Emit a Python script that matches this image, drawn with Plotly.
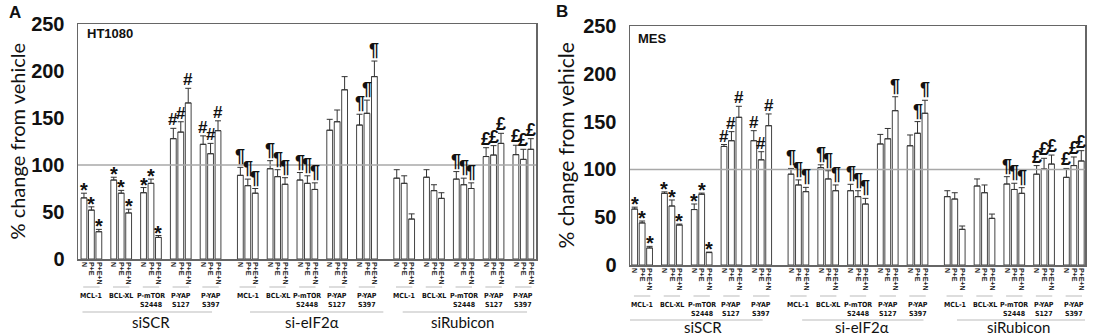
import plotly.graph_objects as go

W, H = 1097, 335

sets = ["siSCR", "si-eIF2α", "siRubicon"]
proteins = ["MCL-1", "BCL-XL", "P-mTOR<br>S2448", "P-YAP<br>S127", "P-YAP<br>S397"]
treatments = ["N", "P+E", "P+E+N"]

# Panel A (HT1080): mean % change and upper SEM
a_mean = [65, 52, 29, 84, 70, 49, 70.5, 80.5, 23, 128, 135, 166, 122, 112, 136.5,
          89, 78, 70, 96, 87.6, 79.5, 84, 80.5, 74, 137, 146, 180, 142.5, 155, 194,
          86, 80.5, 42.5, 87, 72.7, 64.5, 85, 79, 75, 109, 110.6, 123, 111, 106, 116.7]
a_err = [5, 3.5, 2.5, 3, 3, 4, 5.5, 4.5, 2, 11, 11, 15.6, 9, 11, 10.5,
         8.5, 7, 5, 8.6, 7.4, 7, 8, 8, 7, 11.6, 12.5, 14, 11.5, 14, 16.6,
         9, 8, 5.5, 8, 6.3, 6, 8, 7, 6, 9.4, 10, 10.7, 10, 10.7, 11.3]
a_sym = (["*"] * 9 + ["#"] * 6 + ["¶"] * 9 + [""] * 3 + ["¶"] * 3
         + [""] * 6 + ["¶"] * 3 + ["£"] * 6)

# Panel B (MES)
b_mean = [58.5, 44, 17.8, 75, 61.7, 41.8, 58, 74, 13, 124, 130, 154.5, 130, 110, 145.7,
          95, 83.7, 76.7, 101.8, 90, 77.7, 77.7, 71.5, 63.8, 126.6, 132, 161.4, 124.7, 137.8, 158.7,
          71.5, 69, 37.3, 82.6, 75.6, 48.8, 84.7, 79, 75, 95, 100.4, 105.6, 91.7, 104, 108.8]
b_err = [2, 2, 1.7, 1.5, 6.3, 1, 5.8, 1.2, 0.5, 2, 9.5, 11.5, 10.5, 8.5, 12.3,
         6, 5.3, 4.5, 3, 8.6, 6, 6.7, 6.2, 5.9, 10, 10.8, 14.6, 11.3, 12.2, 13.6,
         6.2, 6.6, 3.5, 7.4, 8.1, 4.5, 7.7, 6.5, 5.9, 9, 11.2, 9.4, 9.3, 9, 10.8]
b_sym = (["*"] * 9 + ["#"] * 6 + ["¶"] * 9 + ["", "", "¶"] + ["", "¶", "¶"]
         + [""] * 6 + ["¶"] * 3 + ["£"] * 6)

y_ticks = [0, 50, 100, 150, 200, 250]


def slot(s, g, t):
    return s * 21 + g * 4 + t


xs = [slot(s, g, t) for s in range(3) for g in range(5) for t in range(3)]
labels = [treatments[t] for s in range(3) for g in range(5) for t in range(3)]


def py(px):
    return 1 - px / H


def pxx(px):
    return px / W


fig = go.Figure()
annotations = []
shapes = []

NARROW = "Liberation Sans Narrow, DejaVu Sans Condensed, Roboto Condensed, Roboto, sans-serif"

panels = [
    dict(xa="x", ya="y", mean=a_mean, err=a_err, sym=a_sym,
         dom_x=[pxx(78), pxx(536)], dom_y=[py(259), py(24)], xr=[-0.8, 60.7],
         short_y=287, prot_y=290, long_y=312, set_y=322,
         long=[(-0.2, 17.2), (22.3, 40.2), (42.8, 59.5)],
         set_x=[9.0, 30.6, 50.8],
         letter="A", letter_x=15, letter_y=13, cell="HT1080", cell_x=85, cell_y=33,
         title_x=16, title_size=20),
    dict(xa="x2", ya="y2", mean=b_mean, err=b_err, sym=b_sym,
         dom_x=[pxx(630), pxx(1085)], dom_y=[py(265), py(26)], xr=[-0.63, 60.5],
         short_y=296, prot_y=299, long_y=320, set_y=327,
         long=[(-0.8, 17.2), (22.5, 38.8), (43.3, 60.5)],
         set_x=[9.2, 30.5, 51.5],
         letter="B", letter_x=562, letter_y=11, cell="MES", cell_x=636, cell_y=39,
         title_x=565, title_size=21),
]

sym_font = {"*": 20, "#": 17, "¶": 18, "£": 18}
sym_shift = {"*": -10, "#": -3, "¶": -1, "£": -3}

for i, p in enumerate(panels):
    fig.add_trace(go.Bar(
        x=xs, y=p["mean"], width=0.78,
        marker=dict(color="white", line=dict(color="#444444", width=1)),
        error_y=dict(type="data", array=p["err"], arrayminus=[0] * len(p["err"]),
                     symmetric=False, color="#333333", thickness=1, width=3),
        xaxis=p["xa"], yaxis=p["ya"], showlegend=False, hoverinfo="skip"))

    # reference line at 100
    shapes.append(dict(type="line", xref=f"{p['xa']} domain", x0=0, x1=1,
                       yref=p["ya"], y0=100, y1=100,
                       line=dict(color="#a8a8a8", width=1.5), layer="above"))

    # group underlines and protein labels
    for s in range(3):
        for g in range(5):
            c = slot(s, g, 1)
            shapes.append(dict(type="line", xref=p["xa"], x0=c - 1.1, x1=c + 1.1,
                               yref="paper", y0=py(p["short_y"]), y1=py(p["short_y"]),
                               line=dict(color="#bbbbbb", width=1)))
            annotations.append(dict(text=proteins[g], xref=p["xa"], x=c, yref="paper",
                                    y=py(p["prot_y"]), yanchor="top", xanchor="center",
                                    showarrow=False,
                                    font=dict(family=NARROW, size=7,
                                              color="#111111", weight="bold")))
        x0, x1 = p["long"][s]
        shapes.append(dict(type="line", xref=p["xa"], x0=x0, x1=x1, yref="paper",
                           y0=py(p["long_y"]), y1=py(p["long_y"]),
                           line=dict(color="#bbbbbb", width=1)))
        annotations.append(dict(text=sets[s], xref=p["xa"], x=p["set_x"][s], yref="paper",
                                y=py(p["set_y"]), yanchor="middle", xanchor="center",
                                showarrow=False,
                                font=dict(family="Lato", size=15, color="#111111")))

    # significance symbols
    for x, m, e, sy in zip(xs, p["mean"], p["err"], p["sym"]):
        if not sy:
            continue
        annotations.append(dict(text=sy, xref=p["xa"], x=x, yref=p["ya"], y=m + e,
                                yanchor="bottom", xanchor="center", showarrow=False,
                                yshift=sym_shift[sy],
                                font=dict(family="Liberation Sans", size=sym_font[sy],
                                          color="#111111", weight="bold")))

    # panel letter, cell line label, y title
    annotations.append(dict(text=p["letter"], xref="paper", yref="paper",
                            x=pxx(p["letter_x"]), y=py(p["letter_y"]),
                            xanchor="center", yanchor="middle", showarrow=False,
                            font=dict(family="Liberation Sans", size=17, color="#111111",
                                      weight="bold")))
    annotations.append(dict(text=p["cell"], xref="paper", yref="paper",
                            x=pxx(p["cell_x"]), y=py(p["cell_y"]),
                            xanchor="left", yanchor="middle", showarrow=False,
                            font=dict(family="Liberation Sans", size=13, color="#111111",
                                      weight="bold")))
    yc = (p["dom_y"][0] + p["dom_y"][1]) / 2
    annotations.append(dict(text="% change from vehicle", xref="paper", yref="paper",
                            x=pxx(p["title_x"]), y=yc, textangle=-90,
                            xanchor="center", yanchor="middle", showarrow=False,
                            font=dict(family="Lato", size=p["title_size"], color="#111111")))

axis_common = dict(showgrid=False, zeroline=False, showline=True, mirror=True,
                   linecolor="#666666", linewidth=1.5, automargin=False)

layout = dict(
    width=W, height=H, margin=dict(l=0, r=0, t=0, b=0, pad=0),
    paper_bgcolor="white", plot_bgcolor="white", bargap=0,
    annotations=annotations, shapes=shapes, showlegend=False,
)
for i, p in enumerate(panels):
    sx = "" if i == 0 else "2"
    layout[f"xaxis{sx}"] = dict(
        domain=p["dom_x"], range=p["xr"], anchor=p["ya"],
        tickmode="array", tickvals=xs, ticktext=labels, tickangle=90, ticks="",
        tickfont=dict(family="Liberation Sans", size=7, color="#222222", weight="bold"),
        **axis_common)
    layout[f"yaxis{sx}"] = dict(
        domain=p["dom_y"], range=[0, 250], anchor=p["xa"],
        tickmode="array", tickvals=y_ticks, ticks="", ticklabelstandoff=8,
        tickfont=dict(family="Liberation Sans", size=20, color="#111111", weight="bold"),
        **axis_common)

fig.update_layout(**layout)
fig.write_html("out.html",
               config={"displayModeBar": False, "staticPlot": True},
               post_script="document.body.style.margin='0';"
                           "document.body.style.overflow='hidden';")
